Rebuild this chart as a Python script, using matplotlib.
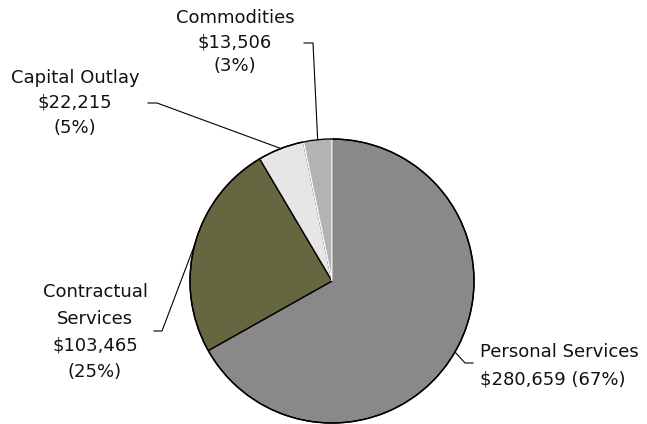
import numpy as np
import matplotlib.pyplot as plt

categories = ["Personal Services", "Contractual Services", "Capital Outlay", "Commodities"]
amounts = [280659, 103465, 22215, 13506]
percents = [67, 25, 5, 3]
label_texts = [
    "Personal Services\n$280,659 (67%)",
    "Contractual\nServices\n$103,465\n(25%)",
    "Capital Outlay\n$22,215\n(5%)",
    "Commodities\n$13,506\n(3%)",
]
colors = ["#898989", "#666641", "#e6e6e6", "#b3b3b3"]

W, H = 647, 424
fig = plt.figure(figsize=(W / 100, H / 100), dpi=100)
ax = fig.add_axes([0, 0, 1, 1])

cx, cy, r = 332, H - 281, 142
wedges, _ = ax.pie(amounts, colors=colors, startangle=90, counterclock=False,
                   center=(cx, cy), radius=r, frame=True,
                   wedgeprops=dict(edgecolor="black", linewidth=1.0))
wedges[3].set_edgecolor("white")
ax.add_patch(plt.Circle((cx, cy), r, fill=False, edgecolor="black", linewidth=1.0))
ax.set_xlim(0, W)
ax.set_ylim(0, H)
ax.set_aspect("equal")
ax.axis("off")

# label placement (pixel coords from top-left), elbow, anchor angle override
label_pos = [(480, 366, "left"), (95, 332, "center"), (75, 103, "center"), (235, 42, "center")]
spacing = [1.7, 1.6, 1.5, 1.45]
elbows = [[(465, 363), (473, 363)], [(154, 331), (162, 331)],
          [(148, 103), (157, 103)], [(304, 43), (313, 43)]]
anchor_override = {0: -30}

for i, w in enumerate(wedges):
    ang = anchor_override.get(i, (w.theta1 + w.theta2) / 2)
    ex = cx + r * np.cos(np.radians(ang))
    ey = cy + r * np.sin(np.radians(ang))
    if i == 0:
        pts = [elbows[i][1], elbows[i][0]]
    else:
        pts = elbows[i]
    xs = [p[0] for p in pts] + [ex]
    ys = [H - p[1] for p in pts] + [ey]
    ax.plot(xs, ys, color="black", linewidth=0.8)
    tx, ty, ha = label_pos[i]
    ax.text(tx, H - ty, label_texts[i], ha=ha, va="center", fontsize=13,
            linespacing=spacing[i], color="#111111")

fig.savefig("out.png", dpi=100)
